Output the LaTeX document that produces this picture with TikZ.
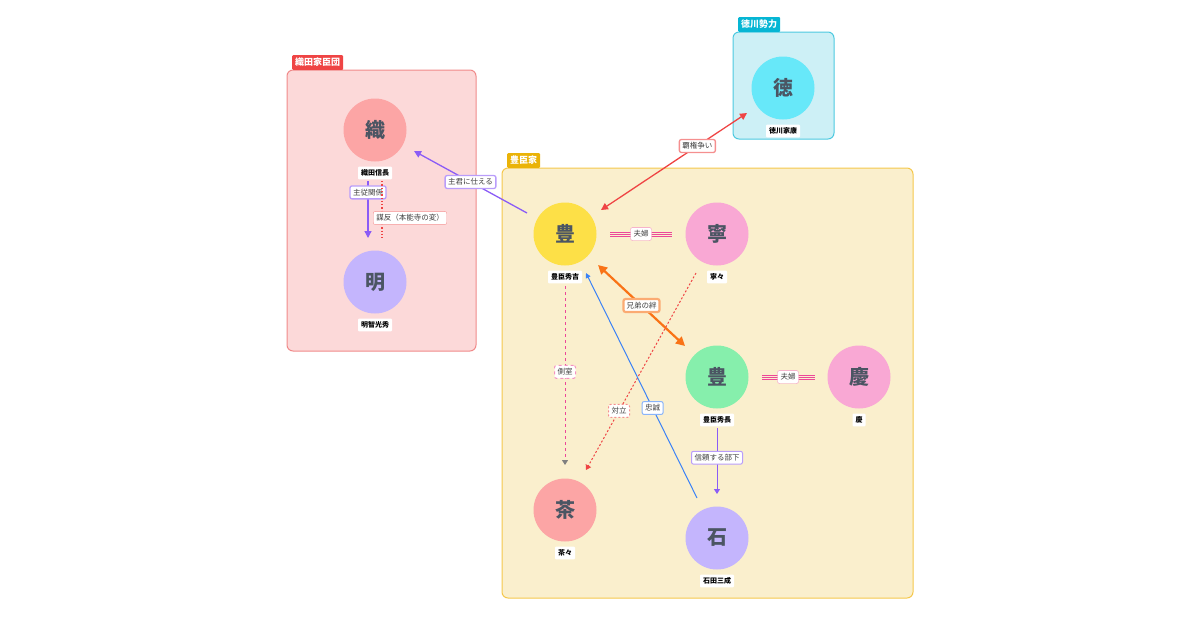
\documentclass[tikz,border=0pt]{standalone}
\usepackage{fontspec}
\setmainfont{Noto Sans CJK JP}
\usetikzlibrary{arrows.meta}
\definecolor{odaF}{HTML}{FCD9D9}\definecolor{odaD}{HTML}{F08A8A}\definecolor{odaT}{HTML}{EF4444}
\definecolor{toyF}{HTML}{FAEFCD}\definecolor{toyD}{HTML}{F5C84C}\definecolor{toyT}{HTML}{EAB308}
\definecolor{tokF}{HTML}{CDF0F6}\definecolor{tokD}{HTML}{4CC9E0}\definecolor{tokT}{HTML}{06B6D4}
\definecolor{cRed}{HTML}{FCA5A5}\definecolor{cPur}{HTML}{C4B5FD}\definecolor{cYel}{HTML}{FDE047}
\definecolor{cPink}{HTML}{F9A8D4}\definecolor{cGrn}{HTML}{86EFAC}\definecolor{cCyan}{HTML}{67E8F9}
\definecolor{ePur}{HTML}{8B5CF6}\definecolor{eRed}{HTML}{EF4444}\definecolor{ePink}{HTML}{EC4899}
\definecolor{eOr}{HTML}{F97316}\definecolor{eBlue}{HTML}{3B82F6}\definecolor{txt}{HTML}{4B5563}
\begin{document}
\begin{tikzpicture}[x=1pt,y=-1pt,
 grp/.style={rounded corners=6pt,line width=1pt},
 tag/.style={anchor=north west,text=white,font=\fontsize{9}{9}\selectfont\bfseries,inner sep=3pt,rounded corners=1pt},
 per/.style={circle,minimum size=63pt,inner sep=0pt,text=txt,font=\fontsize{20}{20}\selectfont\bfseries},
 nm/.style={fill=white,font=\fontsize{7}{7}\selectfont\bfseries,inner sep=3pt,rounded corners=1pt},
 el/.style={fill=white,draw=#1,font=\fontsize{7.5}{7.5}\selectfont,inner sep=3pt,rounded corners=2pt,text=black!75},
]
\useasboundingbox (0,0) rectangle (1200,630);
% groups
\draw[grp,fill=odaF,draw=odaD] (287,70) rectangle (476,351);
\node[tag,fill=odaT] (gOda) at (292,55) {織田家臣団};
\draw[grp,fill=toyF,draw=toyD] (502,168) rectangle (913,598);
\node[tag,fill=toyT] (gToy) at (507,153) {豊臣家};
\draw[grp,fill=tokF,draw=tokD] (733,32) rectangle (834,139);
\node[tag,fill=tokT] (gTok) at (738,17) {徳川勢力};
% persons
\node[per,fill=cRed] (nob) at (375,130) {織};
\node[nm] (nobL) at (375,173) {織田信長};
\node[per,fill=cPur] (mit) at (375,282) {明};
\node[nm] (mitL) at (375,325) {明智光秀};
\node[per,fill=cYel] (hid) at (565,234) {豊};
\node[nm] (hidL) at (565,277) {豊臣秀吉};
\node[per,fill=cPink] (nene) at (717,234) {寧};
\node[nm] (neneL) at (717,277) {寧々};
\node[per,fill=cGrn] (hnag) at (717,377) {豊};
\node[nm] (hnagL) at (717,420) {豊臣秀長};
\node[per,fill=cPink] (kei) at (859,377) {慶};
\node[nm] (keiL) at (859,420) {慶};
\node[per,fill=cRed] (cha) at (565,510) {茶};
\node[nm] (chaL) at (565,553) {茶々};
\node[per,fill=cPur] (ish) at (717,538) {石};
\node[nm] (ishL) at (717,581) {石田三成};
\node[per,fill=cCyan] (tok) at (783,88) {徳};
\node[nm] (tokL) at (783,131) {徳川家康};
% endpoints
\coordinate (a1) at (527,213); \coordinate (a2) at (414,151);
\coordinate (b1) at (368,181); \coordinate (b2) at (368,238);
\coordinate (c1) at (382,181); \coordinate (c2) at (382,238);
\coordinate (d1) at (747,113); \coordinate (d2) at (601,210);
\coordinate (e1) at (610,234); \coordinate (e2) at (672,234);
\coordinate (f1) at (762,377); \coordinate (f2) at (815,377);
\coordinate (g1) at (598,265); \coordinate (g2) at (685,346);
\coordinate (h1) at (565,286); \coordinate (h2) at (565,465);
\coordinate (i1) at (696,273); \coordinate (i2) at (586,470);
\coordinate (j1) at (697,498); \coordinate (j2) at (586,273);
\coordinate (k1) at (717,428); \coordinate (k2) at (717,494);
% edges
\draw[ePur,line width=1.3pt,-{Triangle[length=7pt,width=7pt]}] (a1) -- (a2) node[pos=0.5,el=ePur!60] {主君に仕える};
\draw[ePur,line width=1.3pt,-{Triangle[length=7pt,width=7pt]}] (b1) -- (b2) node[pos=0.2,el=ePur!60] {主従関係};
\draw[eRed,line width=1.3pt,dotted] (c1) -- (c2);
\node[el=eRed!60] (lc) at (410,218) {謀反（本能寺の変）};
\draw[eRed,line width=1.3pt,{Triangle[length=7pt,width=7pt]}-{Triangle[length=7pt,width=7pt]}] (d1) -- (d2) node[pos=0.34,el=eRed!60] {覇権争い};
\foreach \o in {-2pt,0pt,2pt}{\draw[ePink,line width=0.8pt] ([yshift=\o]e1) -- ([yshift=\o]e2); \draw[ePink,line width=0.8pt] ([yshift=\o]f1) -- ([yshift=\o]f2);}
\node[el=ePink!60] (le) at (641,234) {夫婦};
\node[el=ePink!60] (lf) at (788,377) {夫婦};
\draw[eOr,line width=2.2pt,{Triangle[length=9pt,width=9pt]}-{Triangle[length=9pt,width=9pt]}] (g1) -- (g2) node[pos=0.5,el=eOr!60] {兄弟の絆};
\draw[ePink,line width=1pt,dashed,-{Triangle[length=5pt,width=6pt,color=gray]}] (h1) -- (h2) node[pos=0.48,el=ePink!60] {側室};
\draw[eRed,line width=1pt,dash pattern=on 2pt off 2pt,-{Triangle[length=5pt,width=6pt]}] (i1) -- (i2) node[pos=0.7,el=eRed!60] {対立};
\draw[eBlue,line width=1pt,-{Triangle[length=5pt,width=5pt]}] (j1) -- (j2) node[pos=0.4,el=eBlue!60] {忠誠};
\draw[ePur,line width=1pt,-{Triangle[length=5pt,width=6pt]}] (k1) -- (k2) node[pos=0.45,el=ePur!60] {信頼する部下};
\end{tikzpicture}
\end{document}
